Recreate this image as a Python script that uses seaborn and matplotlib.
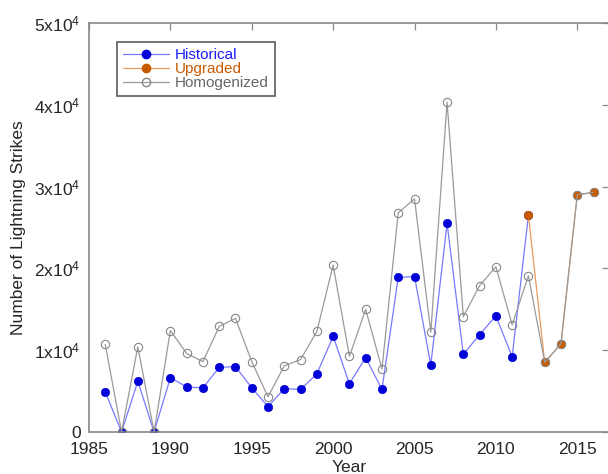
import matplotlib
matplotlib.use("Agg")
import matplotlib.pyplot as plt
import seaborn as sns
import pandas as pd
from matplotlib.lines import Line2D

hist_years = list(range(1986, 2013))
hist_vals = [4900, 0, 6200, 0, 6650, 5500, 5400, 7900, 8000, 5400, 3100, 5300, 5200,
             7100, 11700, 5900, 9100, 5200, 18900, 19000, 8200, 25500, 9500, 11900,
             14200, 9200, 26500]
upg_years = [2012, 2013, 2014, 2015, 2016]
upg_vals = [26500, 8500, 10800, 29000, 29300]
hom_years = list(range(1986, 2017))
hom_vals = [10700, 0, 10400, 0, 12400, 9600, 8600, 12900, 13900, 8600, 4300, 8100, 8850,
            12300, 20400, 9250, 15000, 7700, 26800, 28500, 12200, 40300, 14100, 17900,
            20200, 13100, 19100, 8500, 10800, 29000, 29300]
series_names = ["Historical", "Upgraded", "Homogenized"]
x_ticks = [1985, 1990, 1995, 2000, 2005, 2010, 2015]
y_ticks = [0, 10000, 20000, 30000, 40000, 50000]
y_ticklabels = ["0"] + [r"%dx10$^{\mathregular{4}}$" % k for k in range(1, 6)]

sns.set_style("white")
plt.rcParams["font.family"] = ["Liberation Sans", "DejaVu Sans"]
plt.rcParams["mathtext.fontset"] = "custom"
plt.rcParams["mathtext.rm"] = "Liberation Sans"
plt.rcParams["mathtext.it"] = "Liberation Sans"

fig = plt.figure(figsize=(6.08, 4.74), dpi=100)
ax = fig.add_axes([89 / 608, 42 / 474, 520 / 608, 409 / 474])

blue_m = "#0000d8"
blue_l = "#7878ff"
orange = "#c85a00"
orange_l = "#e89a60"
gray = "#9a9a9a"
ms = 6

df_h = pd.DataFrame({"Year": hist_years, "Value": hist_vals})
df_u = pd.DataFrame({"Year": upg_years, "Value": upg_vals})
df_g = pd.DataFrame({"Year": hom_years, "Value": hom_vals})

sns.lineplot(data=df_h, x="Year", y="Value", ax=ax, color=blue_l, lw=0.9,
             marker="o", markersize=ms, markerfacecolor=blue_m, markeredgecolor=blue_m,
             markeredgewidth=0.5, zorder=2)
sns.lineplot(data=df_u, x="Year", y="Value", ax=ax, color=orange_l, lw=0.9,
             marker="o", markersize=ms, markerfacecolor=orange, markeredgecolor=orange,
             markeredgewidth=0.5, zorder=3)
sns.lineplot(data=df_g, x="Year", y="Value", ax=ax, color=gray, lw=0.9,
             marker="o", markersize=ms, markerfacecolor="none", markeredgecolor="#888888",
             markeredgewidth=0.8, zorder=4)

ax.set_xlim(1985, 2016.95)
ax.set_ylim(0, 50000)
ax.set_xticks(x_ticks)
ax.set_yticks(y_ticks)
ax.set_yticklabels(y_ticklabels)
ax.tick_params(axis="both", which="both", direction="in", length=5, width=0.9,
               color="#888888", labelsize=12.5, top=True, right=True,
               labeltop=False, labelright=False)
ax.tick_params(axis="x", pad=7)
ax.tick_params(axis="y", pad=6)
for s in ax.spines.values():
    s.set_color("#888888")
    s.set_linewidth(1.2)
ax.set_xlabel("Year", fontsize=12.5, labelpad=2)
ax.set_ylabel("Number of Lightning Strikes", fontsize=12.5, labelpad=6)

handles = [
    Line2D([], [], color=blue_l, lw=0.9, marker="o", markersize=ms,
           markerfacecolor=blue_m, markeredgecolor=blue_m),
    Line2D([], [], color=orange_l, lw=0.9, marker="o", markersize=ms,
           markerfacecolor=orange, markeredgecolor=orange),
    Line2D([], [], color=gray, lw=0.9, marker="o", markersize=ms,
           markerfacecolor="none", markeredgecolor="#888888"),
]
leg = ax.legend(handles, series_names, loc="upper left",
                bbox_to_anchor=(28 / 520, 1 - 19 / 409), fontsize=11,
                frameon=True, fancybox=False, edgecolor="#333333",
                handlelength=3.0, handletextpad=0.4, labelspacing=0.0,
                borderpad=0.4, borderaxespad=0)
leg.get_frame().set_linewidth(1.2)
for t, c in zip(leg.get_texts(), ["#1a1aff", orange, "#666666"]):
    t.set_color(c)

fig.savefig("out.png", dpi=100)
